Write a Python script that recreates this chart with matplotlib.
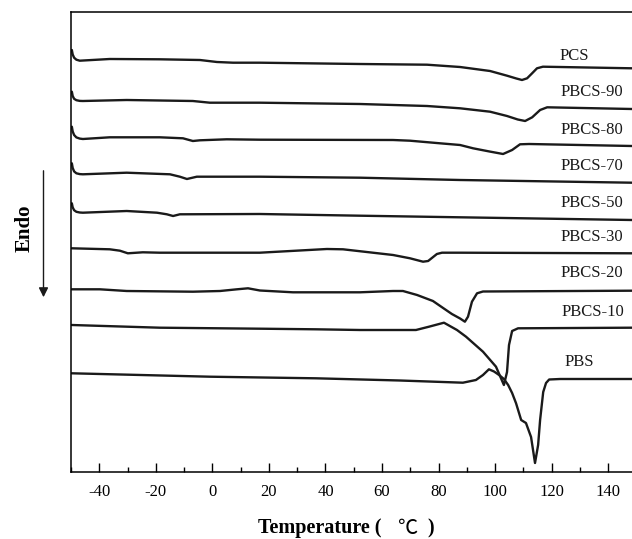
import matplotlib.pyplot as plt
from matplotlib.ticker import MultipleLocator

plt.rcParams['font.family'] = ['Liberation Serif', 'DejaVu Serif']
plt.rcParams['axes.unicode_minus'] = False

# DSC heating curves, heat flow in arbitrary (offset) units
t_pcs = [-49.7, -49.4, -48.9, -48.1, -46.9, -36.3, -18.6, -4.4, 1.6, 7.3, 16.8, 52.2, 75.9, 87.6, 98.2, 104.2, 107.5, 109.5, 111.3, 113.0, 114.8, 116.9, 148.4]
h_pcs = [422, 417.5, 414.3, 412.3, 411.3, 413, 412.7, 412, 410, 409.3, 409.3, 408, 407.3, 405, 401, 396.3, 393.5, 392, 393.7, 398.5, 403.7, 405.3, 403.7]

t_90 = [-49.7, -49.4, -48.9, -48.1, -46.9, -45.8, -30.3, -6.9, -0.9, 5.1, 16.8, 52.2, 75.9, 87.6, 98.2, 104.2, 108.0, 110.6, 113.1, 115.9, 118.4, 148.4]
h_90 = [380.3, 376, 373.2, 371.8, 371.1, 371, 372, 371, 369.3, 369.3, 369.3, 368, 366, 363.7, 360.3, 356, 352.5, 351, 354.7, 362, 364.7, 363]

t_80 = [-49.7, -49.4, -48.9, -48.1, -46.9, -45.8, -36.3, -18.6, -10.4, -6.9, -4.4, 5.1, 16.8, 63.9, 69.9, 80.5, 87.6, 92.2, 98.0, 102.8, 106.0, 108.8, 112.0, 148.4]
h_80 = [345.3, 340.5, 337, 334.6, 333.4, 333, 334.7, 334.7, 333.7, 331, 331.7, 332.7, 332.3, 332, 331.3, 328.7, 327, 323.7, 320.5, 318, 322, 327.7, 328, 326]

t_70 = [-49.7, -49.4, -48.9, -48.1, -46.9, -45.8, -30.3, -15, -11.5, -9, -5.5, 16.8, 52.2, 87.6, 148.4]
h_70 = [308.7, 304, 300.6, 298.7, 297.9, 297.7, 299.3, 297.7, 295.3, 293, 295.3, 295.3, 294.3, 292, 289.3]

t_50 = [-49.7, -49.4, -48.9, -48.1, -46.9, -45.8, -30.3, -19.6, -16.1, -13.9, -11.5, 16.8, 52.2, 87.6, 148.4]
h_50 = [268.7, 264.6, 261.8, 260.2, 259.5, 259.3, 261, 259.3, 257.7, 256, 257.7, 258, 256.3, 254.7, 252]

t_30 = [-49.7, -36.3, -32.7, -29.9, -24.6, -18.6, 16.8, 40.5, 46.2, 63.9, 69.9, 74.5, 76.3, 79.4, 81.2, 87.6, 148.4]
h_30 = [223.7, 222.7, 221.3, 218.7, 219.7, 219.3, 219.3, 223, 222.7, 217, 213.7, 210.3, 211, 218, 219.3, 219.3, 218.7]

t_20 = [-49.7, -39.8, -30.3, -6.9, 2.7, 8.7, 12.6, 16.8, 28.5, 52.2, 63.9, 67.4, 72.4, 78.0, 81.6, 84.7, 87.6, 89.3, 90.4, 91.8, 93.6, 95.7, 148.4]
h_20 = [182.7, 182.7, 181, 180.3, 181, 182.7, 183.7, 181.5, 179.7, 179.7, 181, 181, 177, 171, 164, 158, 153.5, 150.3, 155.3, 170.3, 178.7, 180.5, 181.3]

t_10 = [-49.7, -18.6, 16.8, 36.6, 52.2, 66.3, 72.0, 76.6, 81.9, 86.5, 89.7, 95.7, 100.3, 103.1, 104.2, 104.9, 106.0, 108.1, 148.4]
h_10 = [147, 144.3, 143.3, 142.7, 142, 142, 142, 145.3, 149.3, 142, 135.3, 120.3, 105.3, 87, 100, 127, 141, 143.7, 144.3]

t_pbs = [-49.7, -0.9, 36.6, 66.3, 88.6, 93.2, 95.7, 97.8, 99.6, 101.4, 103.1, 104.6, 106.0, 107.4, 109.2, 110.9, 112.7, 114.1, 115.2, 115.9, 117.0, 118.0, 119.1, 123.0, 148.4]
h_pbs = [98.7, 95.3, 93.7, 91.5, 89.3, 92, 97, 102.7, 100.5, 97, 93, 87, 79, 68.7, 52, 49, 35, 9, 27, 52, 80, 89, 92.5, 93, 93]

names = ['PCS', 'PBCS-90', 'PBCS-80', 'PBCS-70', 'PBCS-50', 'PBCS-30', 'PBCS-20', 'PBCS-10', 'PBS']
label_x = [122.7, 123, 123, 123, 123, 123, 123, 123.5, 124.5]
label_y = [416.3, 379.5, 342.3, 305.7, 269, 235, 198.7, 159.7, 109.7]

curves = [(t_pcs, h_pcs), (t_90, h_90), (t_80, h_80), (t_70, h_70), (t_50, h_50),
          (t_30, h_30), (t_20, h_20), (t_10, h_10), (t_pbs, h_pbs)]

fig = plt.figure(figsize=(6.32, 5.39), dpi=100)
ax = fig.add_axes([71 / 632, 67 / 539, 1 - 71 / 632, 460 / 539])

for t, h in curves:
    ax.plot(t, h, color='#1a1a1a', lw=1.7, solid_joinstyle='round', solid_capstyle='round')

for name, lx, ly in zip(names, label_x, label_y):
    ax.text(lx, ly, name, fontsize=12, ha='left', va='center', color='#1a1a1a')

ax.set_xlim(-50, 148.4)
ax.set_ylim(0, 460)
ax.set_yticks([])
ax.xaxis.set_major_locator(MultipleLocator(20))
ax.xaxis.set_minor_locator(MultipleLocator(10))
ax.tick_params(axis='x', which='major', direction='in', length=6.5, width=1, labelsize=12, pad=9)
ax.tick_params(axis='x', which='minor', direction='in', length=3.3, width=1)
ax.spines['right'].set_visible(False)
for s in ['left', 'top', 'bottom']:
    ax.spines[s].set_linewidth(1.1)

# x label: bold words, thin CJK degree sign
ylab = 1 - 528 / 539
fig.text(258 / 632, ylab, 'Temperature (', fontsize=14.5, fontweight='bold', ha='left', va='center')
fig.text(407 / 632, ylab, '\u2103', fontsize=14.5, ha='center', va='center',
         family=['Noto Sans CJK SC', 'DejaVu Sans'])
fig.text(427 / 632, ylab, ')', fontsize=14.5, fontweight='bold', ha='left', va='center')

fig.text(25 / 632, 1 - 228 / 539, 'Endo', fontsize=15, fontweight='bold', rotation=90,
         ha='center', va='center')
ax.annotate('', xy=(43.5 / 632, 1 - 300 / 539), xytext=(43.5 / 632, 1 - 168 / 539),
            xycoords='figure fraction', textcoords='figure fraction',
            arrowprops=dict(arrowstyle='-|>', color='#1a1a1a', lw=1, mutation_scale=14))

fig.savefig('out.png', dpi=100)
